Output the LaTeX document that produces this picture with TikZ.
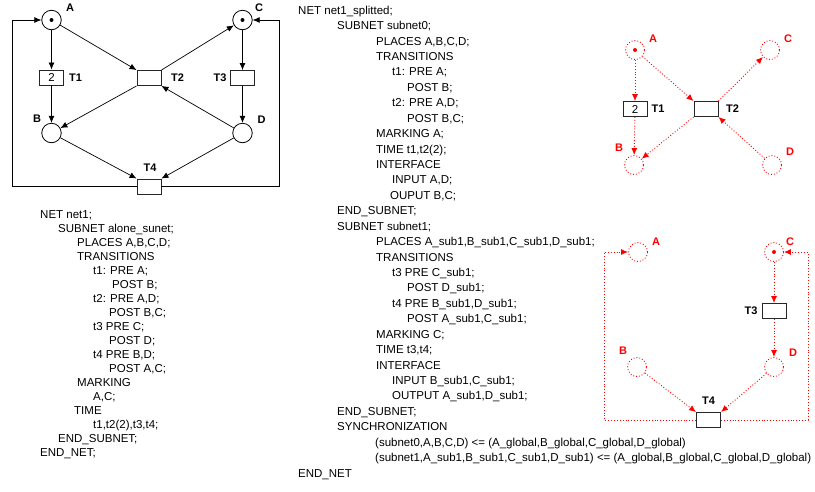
\documentclass[tikz,border=0pt]{standalone}
\usepackage{fontspec}
\setmainfont{Liberation Sans}
\usetikzlibrary{arrows.meta}
\begin{document}
\begin{tikzpicture}[x=1pt,y=-1pt,
  place/.style={circle,draw,line width=0.8pt,minimum size=19.5pt,inner sep=0pt},
  rplace/.style={circle,draw=red,dotted,line width=0.9pt,minimum size=19pt,inner sep=0pt},
  trans/.style={rectangle,draw=black!85,fill=white,line width=0.9pt,minimum width=24pt,minimum height=15pt,inner sep=0pt,font=\fontsize{11.5}{13}\selectfont},
  arr/.style={-{Latex[length=7pt,width=6pt]},line width=0.7pt},
  rarr/.style={-{Latex[length=7pt,width=6pt]},color=red,dotted,line width=0.9pt},
  lab/.style={font=\bfseries\fontsize{11}{13}\selectfont,inner sep=0pt},
  rlab/.style={lab,text=red},
  code/.style={anchor=base west,font=\fontsize{11.5}{14}\selectfont,inner sep=0pt},
  token/.style={circle,fill,inner sep=0pt,minimum size=4pt}
]
\useasboundingbox (0,0) rectangle (815,491);

% ---------- left diagram ----------
\node[place] (A) at (51.5,20) {};
\node[token] (Atok) at (A) {};
\node[place] (C) at (242.5,20) {};
\node[token] (Ctok) at (C) {};
\node[trans] (T1) at (51.5,77.5) {2};
\node[trans] (T2) at (149,78) {};
\node[trans] (T3) at (242.5,78) {};
\node[place] (B) at (51.5,133) {};
\node[place] (D) at (242.5,133) {};
\node[trans] (T4) at (149,186.5) {};

\node[lab] (lA) at (70,8) {A};
\node[lab] (lC) at (259,8) {C};
\node[lab] (lT1) at (75.5,77.5) {T1};
\node[lab] (lT2) at (177.5,78) {T2};
\node[lab] (lT3) at (220,78) {T3};
\node[lab] (lB) at (37,118.5) {B};
\node[lab] (lD) at (261.5,120) {D};
\node[lab] (lT4) at (150,168) {T4};

\draw[arr] (A) -- (T1);
\draw[arr] (T1) -- (B);
\draw[arr] (A) -- (T2.north west);
\draw[arr] (T2.north east) -- (C);
\draw[arr] (T2.south west) -- (B);
\draw[arr] (D) -- (T2.south east);
\draw[arr] (C) -- (T3);
\draw[arr] (T3) -- (D);
\draw[arr] (B) -- (T4.north west);
\draw[arr] (D) -- (T4.north east);
\coordinate (LL) at (12,0);
\coordinate (LR) at (279.5,0);
\draw[arr] (T4.west) -- (T4.west -| LL) |- (A);
\draw[arr] (T4.east) -- (T4.east -| LR) |- (C);

% ---------- top right (subnet0) ----------
\node[rplace] (A1) at (635,50) {};
\node[token,red] (A1tok) at (A1) {};
\node[rplace] (C1) at (770,50) {};
\node[trans] (T11) at (635,109) {2};
\node[trans] (T21) at (706,109) {};
\node[rplace] (B1) at (634,165) {};
\node[rplace] (D1) at (772,165) {};

\node[rlab] (lA1) at (653,39) {A};
\node[rlab] (lC1) at (788,39) {C};
\node[rlab] (lB1) at (619,148) {B};
\node[rlab] (lD1) at (790,152) {D};
\node[lab] (lT11) at (658,109) {T1};
\node[lab] (lT21) at (732.5,109) {T2};

\draw[rarr] (A1) -- (T11);
\draw[rarr] (T11) -- (B1);
\draw[rarr] (A1) -- (T21.north west);
\draw[rarr] (T21.north east) -- (C1);
\draw[rarr] (T21.south west) -- (B1);
\draw[rarr] (D1) -- (T21.south east);

% ---------- bottom right (subnet1) ----------
\node[rplace] (A2) at (638,252) {};
\node[rplace] (C2) at (774,252) {};
\node[token,red] (C2tok) at (C2) {};
\node[trans] (T32) at (774,311) {};
\node[rplace] (B2) at (637,367) {};
\node[rplace] (D2) at (774,367) {};
\node[trans] (T42) at (708.5,420) {};

\node[rlab] (lA2) at (656,242) {A};
\node[rlab] (lC2) at (790,242) {C};
\node[rlab] (lB2) at (623,351) {B};
\node[rlab] (lD2) at (793,353) {D};
\node[lab] (lT32) at (751,311) {T3};
\node[lab] (lT42) at (708.5,401) {T4};

\draw[rarr] (C2) -- (T32);
\draw[rarr] (T32) -- (D2);
\draw[rarr] (B2) -- (T42.north west);
\draw[rarr] (D2) -- (T42.north east);
\coordinate (RL) at (604,0);
\coordinate (RR) at (808,0);
\draw[rarr] (T42.west) -- (T42.west -| RL) |- (A2);
\draw[rarr] (T42.east) -- (T42.east -| RR) |- (C2);

% ---------- left code ----------
\foreach \x/\t [count=\i] in {
  40/{NET net1;},
  58/{SUBNET alone\_sunet;},
  77/{PLACES A,B,C,D;},
  77/{TRANSITIONS},
  93/{t1: PRE A;},
  112/{POST B;},
  93/{t2: PRE A,D;},
  109/{POST B,C;},
  93/{t3 PRE C;},
  109/{POST D;},
  93/{t4 PRE B,D;},
  109/{POST A,C;},
  77/{MARKING},
  93/{A,C;},
  74/{TIME},
  93/{t1,t2(2),t3,t4;},
  58/{END\_SUBNET;},
  40/{END\_NET;}}
  \node[code] (s\i) at (\x,{218.2+14*(\i-1)}) {\t};

% ---------- middle code ----------
\foreach \x/\t [count=\i] in {
  298/{NET net1\_splitted;},
  337/{SUBNET subnet0;},
  376/{PLACES A,B,C,D;},
  376/{TRANSITIONS},
  392/{t1: PRE A;},
  407/{POST B;},
  392/{t2: PRE A,D;},
  407/{POST B,C;},
  376/{MARKING A;},
  376/{TIME t1,t2(2);},
  376/{INTERFACE},
  392/{INPUT A,D;},
  390/{OUPUT B,C;},
  337/{END\_SUBNET;},
  337/{SUBNET subnet1;},
  376/{PLACES A\_sub1,B\_sub1,C\_sub1,D\_sub1;},
  376/{TRANSITIONS},
  392/{t3 PRE C\_sub1;},
  407/{POST D\_sub1;},
  392/{t4 PRE B\_sub1,D\_sub1;},
  407/{POST A\_sub1,C\_sub1;},
  376/{MARKING C;},
  376/{TIME t3,t4;},
  376/{INTERFACE},
  392/{INPUT B\_sub1,C\_sub1;},
  392/{OUTPUT A\_sub1,D\_sub1;},
  337/{END\_SUBNET;},
  337/{SYNCHRONIZATION},
  375/{(subnet0,A,B,C,D) <= (A\_global,B\_global,C\_global,D\_global)},
  375/{(subnet1,A\_sub1,B\_sub1,C\_sub1,D\_sub1) <= (A\_global,B\_global,C\_global,D\_global)},
  298/{END\_NET}}
  \node[code] (m\i) at (\x,{14.2+15.43*(\i-1)}) {\t};
\end{tikzpicture}
\end{document}
